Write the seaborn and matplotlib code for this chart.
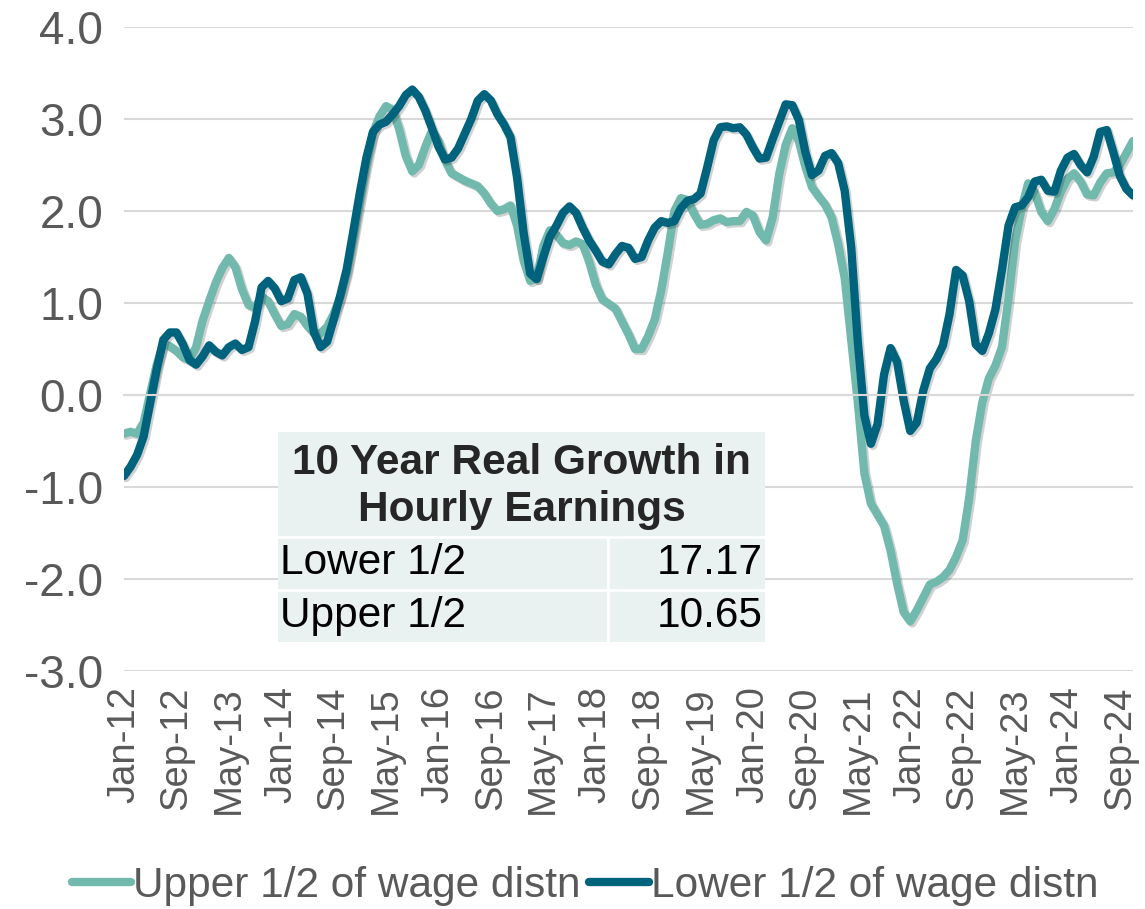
import matplotlib
matplotlib.use("Agg")
import matplotlib.pyplot as plt
import matplotlib.patheffects as pe
from matplotlib.patches import Rectangle
import seaborn as sns
import pandas as pd
import numpy as np

# monthly observations, Jan-2012 .. Nov-2024
months = pd.date_range("2012-01-01", periods=155, freq="MS")

upper_half = [
    -0.42, -0.40, -0.42, -0.30, 0.02, 0.33, 0.56, 0.53, 0.48, 0.41,
    0.38, 0.52, 0.81, 1.02, 1.22, 1.38, 1.49, 1.39, 1.15, 0.98,
    0.95, 1.07, 1.02, 0.88, 0.75, 0.77, 0.88, 0.85, 0.75, 0.67,
    0.67, 0.74, 0.88, 1.06, 1.33, 1.71, 2.11, 2.51, 2.85, 3.03,
    3.14, 3.10, 2.89, 2.60, 2.43, 2.50, 2.70, 2.87, 2.76, 2.55,
    2.41, 2.37, 2.33, 2.30, 2.27, 2.19, 2.08, 2.00, 2.02, 2.06,
    1.84, 1.46, 1.24, 1.27, 1.62, 1.79, 1.74, 1.65, 1.63, 1.67,
    1.64, 1.45, 1.20, 1.04, 0.99, 0.94, 0.80, 0.66, 0.50, 0.50,
    0.64, 0.82, 1.14, 1.55, 2.00, 2.14, 2.12, 1.97, 1.85, 1.86,
    1.90, 1.92, 1.88, 1.89, 1.89, 1.99, 1.95, 1.77, 1.68, 1.93,
    2.40, 2.72, 2.90, 2.76, 2.48, 2.26, 2.16, 2.07, 1.93, 1.64,
    1.27, 0.60, -0.08, -0.85, -1.18, -1.30, -1.42, -1.69, -2.05, -2.36,
    -2.46, -2.34, -2.20, -2.06, -2.03, -1.98, -1.90, -1.76, -1.58, -1.12,
    -0.50, -0.08, 0.18, 0.32, 0.52, 1.05, 1.67, 2.03, 2.30, 2.20,
    1.99, 1.89, 2.02, 2.21, 2.35, 2.41, 2.32, 2.18, 2.17, 2.31,
    2.41, 2.42, 2.50, 2.63, 2.76,
]

lower_half = [
    -0.88, -0.78, -0.65, -0.45, -0.08, 0.28, 0.60, 0.68, 0.68, 0.55,
    0.38, 0.33, 0.42, 0.54, 0.47, 0.43, 0.52, 0.56, 0.49, 0.52,
    0.80, 1.17, 1.24, 1.16, 1.02, 1.05, 1.25, 1.28, 1.10, 0.68,
    0.52, 0.58, 0.82, 1.08, 1.37, 1.78, 2.20, 2.58, 2.86, 2.94,
    2.97, 3.05, 3.14, 3.26, 3.32, 3.24, 3.09, 2.90, 2.70, 2.56,
    2.58, 2.68, 2.84, 3.00, 3.20, 3.27, 3.20, 3.05, 2.94, 2.80,
    2.36, 1.76, 1.32, 1.26, 1.50, 1.72, 1.84, 1.98, 2.05, 1.98,
    1.82, 1.68, 1.57, 1.45, 1.42, 1.53, 1.62, 1.60, 1.48, 1.50,
    1.68, 1.82, 1.89, 1.87, 1.89, 2.03, 2.11, 2.13, 2.19, 2.47,
    2.77, 2.91, 2.92, 2.90, 2.91, 2.83, 2.69, 2.57, 2.58, 2.78,
    2.97, 3.16, 3.15, 2.99, 2.64, 2.39, 2.44, 2.60, 2.63, 2.52,
    2.22, 1.60, 0.58, -0.22, -0.53, -0.32, 0.22, 0.51, 0.36, -0.06,
    -0.39, -0.30, 0.05, 0.29, 0.39, 0.54, 0.88, 1.36, 1.30, 1.02,
    0.55, 0.48, 0.67, 0.93, 1.36, 1.84, 2.04, 2.06, 2.15, 2.32,
    2.34, 2.22, 2.21, 2.44, 2.58, 2.62, 2.50, 2.42, 2.59, 2.86,
    2.88, 2.64, 2.38, 2.24, 2.17,
]

series_names = ["Upper 1/2 of wage distn", "Lower 1/2 of wage distn"]
series_colors = ["#72B9AD", "#00637D"]

table_title = "10 Year Real Growth in\nHourly Earnings"
table_rows = ["Lower 1/2", "Upper 1/2"]
table_values = ["17.17", "10.65"]

y_ticks = [-3, -2, -1, 0, 1, 2, 3, 4]

TEXT = "#595959"
GRID = "#D9D9D9"
FS = 30.5

df = pd.DataFrame({
    "idx": np.tile(np.arange(len(months)), 2),
    "value": upper_half + lower_half,
    "series": np.repeat(series_names, len(months)),
})

sns.set_theme(style="white")
plt.rcParams["font.family"] = ["Liberation Sans", "DejaVu Sans"]

fig = plt.figure(figsize=(11.45, 9.09), dpi=100)
ax = fig.add_axes([0.1083, 0.2618, 0.8812, 0.7085])

sns.lineplot(data=df, x="idx", y="value", hue="series",
             palette=dict(zip(series_names, series_colors)),
             linewidth=6, ax=ax, legend=False)
for line in ax.lines:
    line.set_path_effects([pe.SimpleLineShadow(offset=(1.5, -1.5), shadow_color="black", alpha=0.18),
                           pe.Normal()])
    line.set_solid_joinstyle("round")

ax.set_xlim(0, len(months) - 1)
ax.set_ylim(-3, 4)
ax.set_yticks(y_ticks)
ax.set_yticklabels([f"{v:.1f}" for v in y_ticks])
ax.yaxis.grid(True, color=GRID, linewidth=1.5)
ax.set_axisbelow(True)
ax.tick_params(axis="y", length=0, pad=15, labelsize=33, labelcolor=TEXT)
ax.set_xlabel("")
ax.set_ylabel("")
for s in ["left", "right", "top"]:
    ax.spines[s].set_visible(False)

# category axis crosses at zero, labels sit at the bottom
tick_pos = np.arange(0, len(months), 8)
ax.spines["bottom"].set_position(("data", 0))
ax.spines["bottom"].set_color(GRID)
ax.spines["bottom"].set_linewidth(1.5)
ax.set_xticks(tick_pos)
ax.tick_params(axis="x", direction="out", length=8, width=1.5, color=GRID, labelbottom=False)

sec = ax.secondary_xaxis(0.0)
sec.set_xticks(tick_pos, labels=[months[i].strftime("%b-%y") for i in tick_pos])
sec.tick_params(length=0, pad=11, labelsize=27.5, labelcolor=TEXT, labelrotation=90)
sec.spines["bottom"].set_visible(False)

# inset table
tx0, tx1, tsplit = 0.1526, 0.6353, 0.48
ty_top, ty_title, ty_mid, ty_bot = 0.371, 0.208, 0.126, 0.045
ax.add_patch(Rectangle((tx0, ty_bot), tx1 - tx0, ty_top - ty_bot, transform=ax.transAxes,
                       facecolor="#E9F1F1", edgecolor="none", zorder=5))
ax.plot([tx0, tx1], [ty_title, ty_title], transform=ax.transAxes, color="white", lw=2, zorder=6)
ax.plot([tx0, tx1], [ty_mid, ty_mid], transform=ax.transAxes, color="white", lw=2, zorder=6)
ax.plot([tsplit, tsplit], [ty_bot, ty_title], transform=ax.transAxes, color="white", lw=2, zorder=6)
ax.text((tx0 + tx1) / 2, (ty_top + ty_title) / 2 - 0.003, table_title, transform=ax.transAxes,
        ha="center", va="center", fontsize=FS, fontweight="bold", color="#262626",
        linespacing=1.2, zorder=7)
for yc, name, val in zip([(ty_title + ty_mid) / 2, (ty_mid + ty_bot) / 2], table_rows, table_values):
    ax.text(tx0 + 0.002, yc, name, transform=ax.transAxes, ha="left", va="center",
            fontsize=FS, color="black", zorder=7)
    ax.text(tx1 - 0.002, yc, val, transform=ax.transAxes, ha="right", va="center",
            fontsize=FS, color="black", zorder=7)

handles = [plt.Line2D([], [], color=c, linewidth=6) for c in series_colors]
fig.legend(handles, series_names, loc="center", bbox_to_anchor=(0.511, 0.025), ncol=2,
           frameon=False, fontsize=FS, handlelength=1.4, handletextpad=0.05,
           columnspacing=0.2, labelcolor=TEXT)

fig.savefig("out.png", dpi=100, facecolor="white")
